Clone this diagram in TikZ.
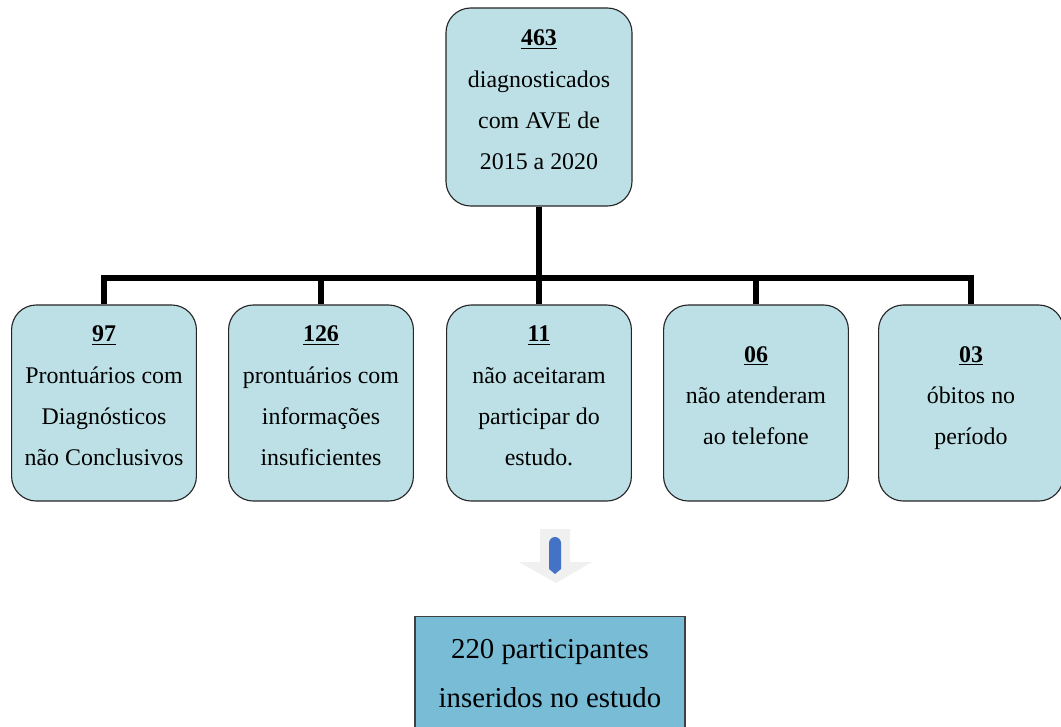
\documentclass[tikz,border=0pt]{standalone}
\usepackage{fontspec}
\setmainfont{Liberation Serif}
\usetikzlibrary{positioning}
\definecolor{boxfill}{HTML}{BCE0E5}
\definecolor{endfill}{HTML}{78BCD6}
\definecolor{arrowgray}{HTML}{F0F0F0}
\definecolor{arrowblue}{HTML}{4472C4}
\tikzset{
    count/.style={draw=black!85, line width=0.8pt, fill=boxfill,
                  rounded corners=0.62cm, align=center,
                  minimum width=4.62cm, minimum height=4.9cm,
                  text depth=0.36cm,
                  font=\fontsize{17}{29.3}\selectfont},
    total/.style={count, minimum width=4.65cm, minimum height=4.95cm},
    final/.style={draw=black!75, line width=0.8pt, fill=endfill,
                  align=center, minimum width=6.75cm, minimum height=2.85cm,
                  font=\fontsize{20.5}{34.5}\selectfont},
    branch/.style={line width=3.6pt},
}
\newcommand{\countlabel}[1]{\underline{\textbf{#1}}}

\begin{document}
\begin{tikzpicture}[x=0.025cm, y=-0.025cm]
    \useasboundingbox (0,0) rectangle (1061,726);

    \node[total] (diag) at (539,107)
        {\countlabel{463}\\diagnosticados\\com AVE de\\2015 a 2020};

    \node[count] (inconc) at (104,403)
        {\countlabel{97}\\Prontuários com\\Diagnósticos\\não Conclusivos};
    \node[count] (insuf) at (321,403)
        {\countlabel{126}\\prontuários com\\informações\\insuficientes};
    \node[count] (recusa) at (539,403)
        {\countlabel{11}\\não aceitaram\\participar do\\estudo.};
    \node[count] (telefone) at (756,403)
        {\countlabel{06}\\não atenderam\\ao telefone};
    \node[count] (obitos) at (971,403)
        {\countlabel{03}\\óbitos no\\período};

    % tree of exclusions
    \coordinate (bus) at (539,278);
    \draw[branch] (diag.south) -- (bus);
    \draw[branch] (inconc.north) -- (inconc.north |- bus)
        -- (obitos.north |- bus) -- (obitos.north);
    \draw[branch] (insuf.north |- bus) -- (insuf.north);
    \draw[branch] (bus) -- (recusa.north);
    \draw[branch] (telefone.north |- bus) -- (telefone.north);

    % down arrow
    \fill[arrowgray] (540,529) -- (570,529) -- (570,562) -- (592,562)
        -- (556,583) -- (519,562) -- (540,562) -- cycle;
    \fill[arrowblue] (549,543) arc (180:360:6) -- (561,569) -- (555,574)
        -- (549,569) -- cycle;

    \node[final, anchor=north] (inclusos) at (550,616)
        {220 participantes\\inseridos no estudo};

\end{tikzpicture}
\end{document}
